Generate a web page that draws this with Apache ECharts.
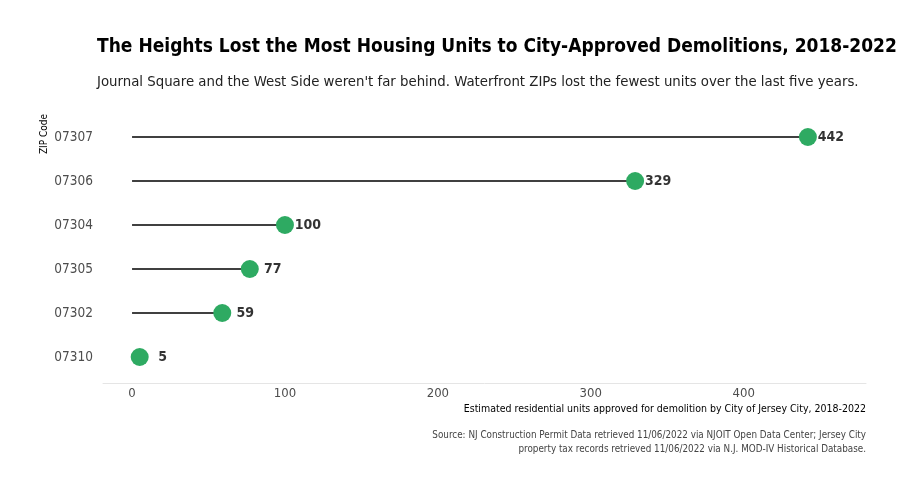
<!DOCTYPE html>
<html>
<head>
<meta charset="utf-8">
<script src="https://cdn.jsdelivr.net/npm/echarts@6/dist/echarts.min.js"></script>
<style>
  html, body { margin: 0; padding: 0; background: #fff; }
  #chart { width: 907px; height: 494px; }
</style>
</head>
<body>
<div id="chart"></div>
<script>
// ZIP codes, top to bottom
const zips = ['07307', '07306', '07304', '07305', '07302', '07310']
const units = [442, 329, 100, 77, 59, 5]
const xTicks = [0, 100, 200, 300, 400]

const font = '"Liberation Sans Narrow", "DejaVu Sans Condensed", Roboto, sans-serif'
// labels sit centred a bit to the right of each dot (in data units)
const labelNudge = 15

const sourceLines = [
    'Source: NJ Construction Permit Data retrieved 11/06/2022 via NJOIT Open Data Center; Jersey City',
    'property tax records retrieved 11/06/2022 via N.J. MOD-IV Historical Database.'
]

const chart = echarts.init(document.getElementById('chart'))

chart.setOption({
    backgroundColor: '#fff',
    textStyle: { fontFamily: font },
    title: [{
        text: 'The Heights Lost the Most Housing Units to City-Approved Demolitions, 2018-2022',
        left: 97,
        top: 38,
        padding: 0,
        textStyle: { fontFamily: font, fontSize: 19, fontWeight: 'bold', color: '#000' }
    }, {
        text: "Journal Square and the West Side weren't far behind. Waterfront ZIPs lost the fewest units over the last five years.",
        left: 97,
        top: 75,
        padding: 0,
        textStyle: { fontFamily: font, fontSize: 14.8, fontWeight: 'normal', color: '#222' }
    }],
    graphic: sourceLines.map((t, i) => ({
        type: 'text',
        right: 41,
        top: 430 + i * 14,
        style: { text: t, font: '9.8px ' + font, fill: '#444' }
    })).concat([{
        type: 'text',
        x: 44,
        y: 134,
        rotation: Math.PI / 2,
        style: {
            text: 'ZIP Code',
            align: 'center',
            verticalAlign: 'middle',
            font: '10px ' + font,
            fill: '#000'
        }
    }]),
    grid: { left: 103, right: 41, top: 115, bottom: 115 },
    xAxis: {
        type: 'value',
        min: -19,
        max: 480,
        offset: 4,
        name: 'Estimated residential units approved for demolition by City of Jersey City, 2018-2022',
        nameLocation: 'end',
        nameGap: 0,
        nameTextStyle: {
            fontFamily: font, fontSize: 10.5, color: '#000',
            align: 'right', verticalAlign: 'top', padding: [21, 0, 0, 0]
        },
        axisLine: { show: true, lineStyle: { color: '#e5e5e5', width: 1 } },
        axisTick: { show: false },
        splitLine: { show: false },
        axisLabel: {
            customValues: xTicks,
            fontFamily: font, fontSize: 13, color: '#4d4d4d', margin: 4
        }
    },
    yAxis: {
        type: 'category',
        data: zips,
        inverse: true,
        axisLine: { show: false },
        axisTick: { show: false },
        axisLabel: { fontFamily: font, fontSize: 13.5, color: '#4d4d4d', margin: 10 }
    },
    series: [{
        type: 'bar',
        data: units,
        barWidth: 1.6,
        itemStyle: { color: '#000' },
        silent: true,
        z: 1
    }, {
        type: 'scatter',
        data: units,
        symbolSize: 18,
        itemStyle: { color: '#2eaa62', opacity: 1 },
        z: 3
    }, {
        type: 'scatter',
        data: units.map((v, i) => [v + labelNudge, zips[i], v]),
        symbolSize: 0.1,
        itemStyle: { color: '#000' },
        silent: true,
        label: {
            show: true,
            position: 'inside',
            formatter: p => p.value[2],
            fontFamily: font,
            fontSize: 14,
            fontWeight: 'bold',
            color: '#000',
            textBorderWidth: 0
        },
        z: 4
    }]
})
</script>
</body>
</html>
